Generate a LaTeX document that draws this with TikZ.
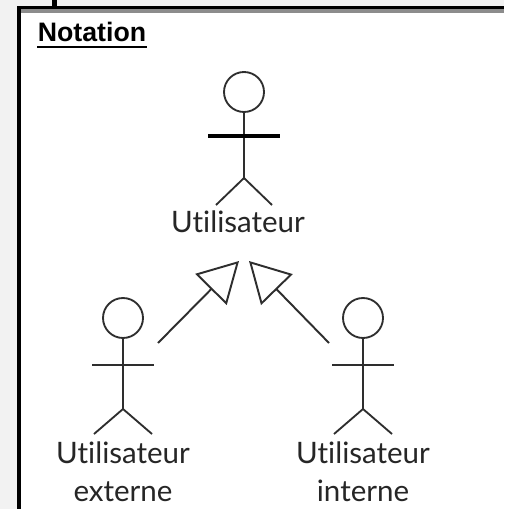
\documentclass[tikz,border=0pt]{standalone}
\usepackage{fontspec}
\setmainfont{Lato}[Ligatures=NoCommon]
\newfontfamily\titlefont{Liberation Sans}
\usetikzlibrary{arrows.meta}
\definecolor{pagegray}{gray}{0.95}
\definecolor{inkgray}{gray}{0.18}
\tikzset{
  limb/.style={draw=inkgray,line width=1.05pt},
  head/.style={circle,draw=inkgray,line width=1.05pt,inner sep=0pt,minimum size=0.8cm},
  actorlabel/.style={font=\fontsize{16.8}{16.8}\selectfont,text=black!85,inner sep=0pt},
  generalize/.style={draw=inkgray,line width=1.1pt,-{Triangle[open,length=0.8cm,width=0.88cm]}}
}
\begin{document}
\begin{tikzpicture}[x=0.02cm,y=-0.02cm]
\useasboundingbox (0,0) rectangle (504,509);
\fill[pagegray] (0,0) rectangle (504,509);
\fill[white] (19,11) rectangle (504,509);
\fill[black!45] (19,9) rectangle (504,13);
\draw[line width=2.2pt] (19,509) -- (19,7.5) -- (504,7.5);
\draw[line width=2.8pt] (54.5,0) -- (54.5,7);
\node[font=\titlefont\bfseries\fontsize{15.2}{15.2}\selectfont,inner sep=0pt,anchor=base] (title) at (92,42) {Notation};
\draw[line width=1.5pt] (37,47) -- (147,47);

% big actor
\node[head] (bighead) at (244,92) {};
\coordinate (bighip) at (244,178);
\draw[limb] (bighead.south) -- (bighip);
\draw[limb,draw=black,line width=2.3pt] (208,136) -- (280,136);
\draw[limb] (216,205) -- (bighip) -- (272,205);
\node[actorlabel,anchor=base] (biglabel) at (238,233) {Utilisateur};

% small actors
\foreach \n/\x/\lbl in {ext/123/externe,int/363/interne} {
  \node[head] (\n head) at (\x,318) {};
  \coordinate (\n hip) at (\x,409);
  \draw[limb] (\n head.south) -- (\n hip);
  \draw[limb] (\x-31,365) -- (\x+31,365);
  \draw[limb] (\x-29,434) -- (\n hip) -- (\x+29,434);
  \node[actorlabel,anchor=base] (\n label) at (\x,463) {Utilisateur};
  \node[actorlabel,anchor=base] (\n sub) at (\x,501) {\lbl};
}

% generalisations
\coordinate (extfoot) at (158,343);
\coordinate (extgoal) at (239,261);
\coordinate (intfoot) at (329,343);
\coordinate (intgoal) at (249,261);
\draw[generalize] (extfoot) -- (extgoal);
\draw[generalize] (intfoot) -- (intgoal);
\end{tikzpicture}
\end{document}
